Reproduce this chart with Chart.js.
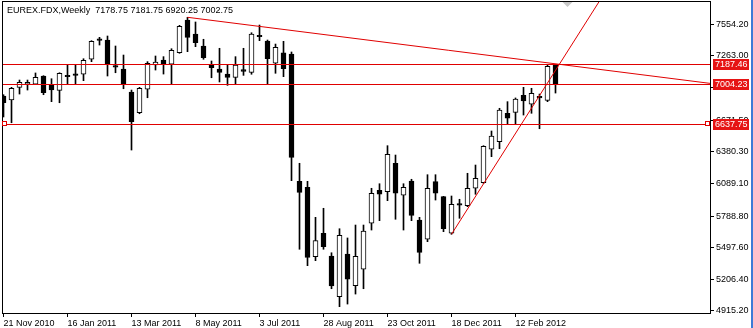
<!DOCTYPE html>
<html>
<head>
<meta charset="utf-8">
<title>EUREX.FDX Weekly</title>
<script src="https://cdn.jsdelivr.net/npm/chart.js@4"></script>
<style>
  html, body { margin: 0; padding: 0; background: #fff; }
  #c { display: block; }
</style>
</head>
<body>
<canvas id="c" width="753" height="328" style="width:753px;height:328px"></canvas>
<script>
// weekly candles, index 0 = week of 21 Nov 2010
const opens  = [6893, 6856, 6973, 7002, 7001, 7077, 6994, 6945, 7083, 7097,
                7095, 7231, 7420, 7408, 7172, 7141, 6930, 6739, 6955, 7178,
                7224, 7187, 7291, 7592, 7463, 7353, 7185, 7141, 7095, 7065,
                7135, 7111, 7452, 7399, 7194, 7291, 7279, 6108, 6053, 5415,
                5630, 5421, 5047, 5439, 5148, 5299, 5722, 6025, 6013, 6274,
                5980, 6111, 5752, 5577, 6105, 5967, 5630, 5903, 5884, 6044,
                6095, 6403, 6473, 6734, 6743, 6899, 6817, 6890, 6853, 7178.75];
const highs  = [6905, 6973, 7040, 7040, 7105, 7080, 7052, 7107, 7178, 7178,
                7236, 7402, 7433, 7445, 7353, 7270, 6948, 6973, 7209, 7261,
                7255, 7328, 7543, 7617, 7574, 7415, 7215, 7332, 7178, 7255,
                7332, 7475, 7546, 7408, 7371, 7396, 7298, 6274, 6108, 5777,
                5860, 5451, 5672, 5587, 5706, 5706, 6044, 6086, 6436, 6350,
                6086, 6127, 5777, 6169, 6169, 5970, 5973, 5943, 6182, 6258,
                6436, 6571, 6780, 6841, 6875, 6973, 6964, 6911, 7175, 7181.75];
const lows   = [6700, 6647, 6911, 6948, 6998, 6905, 6841, 6831, 7003, 7003,
                7034, 7209, 7362, 7077, 7107, 6960, 6396, 6730, 6877, 7132,
                7095, 7003, 7286, 7301, 7347, 7231, 7061, 7022, 6991, 7003,
                7083, 7093, 7402, 7001, 7102, 7071, 6114, 5483, 5332, 5378,
                5483, 5120, 4955, 4979, 5071, 5120, 5660, 5746, 5930, 5759,
                5660, 5746, 5354, 5553, 5936, 5645, 5621, 5768, 5875, 5989,
                6090, 6335, 6408, 6635, 6635, 6718, 6734, 6592, 6841, 6920.25];
const closes = [6831, 6964, 7019, 7018, 7065, 6923, 6948, 7102, 7071, 7083,
                7221, 7396, 7405, 7190, 7158, 7003, 6657, 6964, 7194, 7206,
                7187, 7313, 7534, 7433, 7383, 7245, 7153, 7111, 7065, 7178,
                7120, 7463, 7438, 7236, 7341, 7144, 6329, 6007, 5409, 5562,
                5507, 5145, 5612, 5207, 5418, 5651, 5998, 5989, 6357, 5998,
                6053, 5795, 5455, 6044, 5998, 5672, 5897, 5889, 6044, 6136,
                6430, 6525, 6764, 6688, 6865, 6847, 6918, 6875, 7166, 7002.75];

const xTickIndex  = [0, 8, 16, 24, 32, 40, 48, 56, 64];
const xTickLabels = ['21 Nov 2010', '16 Jan 2011', '13 Mar 2011', '8 May 2011', '3 Jul 2011',
                     '28 Aug 2011', '23 Oct 2011', '18 Dec 2011', '12 Feb 2012'];
const yTickValues = [7554.20, 7263.00, 6971.80, 6671.50, 6380.30, 6089.10, 5788.80, 5497.60, 5206.40, 4915.20];

// horizontal levels and trend lines drawn on the chart
const levelValues = [7187.46, 7004.23, 6637.75];
const selectedLevel = 6637.75;
const trendDownX = [23, 69];
const trendDownY = [7617, 7189];
const trendUpX = [56, 68];
const trendUpY = [5621, 7013];

const titleText = 'EUREX.FDX,Weekly  7178.75 7181.75 6920.25 7002.75';

// scale window (8 px per week, 9.2 points per px)
const X_MIN = -0.1875, X_MAX = 88.3125;
const Y_MIN = 4887.46, Y_MAX = 7767.06;
const SHIFT_MARK = 70.5;

const FONT = '"Liberation Sans", Arial, sans-serif';
const LINE_RED = '#e00000';
const BOX_RED = '#e61414';

const ray = (xs, ys, xEnd) => {
    const slope = (ys[1] - ys[0]) / (xs[1] - xs[0]);
    return [{ x: xs[0], y: ys[0] }, { x: xEnd, y: ys[0] + slope * (xEnd - xs[0]) }];
};

const bodies = opens.map((o, i) => ({ x: i, y: [o, closes[i]] }));
const wicks = lows.map((l, i) => ({ x: i, y: [l, highs[i]] }));
const bodyColors = opens.map((o, i) => closes[i] >= o ? '#ffffff' : '#000000');

const noPad = s => { s.paddingTop = 0; s.paddingBottom = 0; s.paddingLeft = 0; s.paddingRight = 0; };

const mtDecor = {
    id: 'mtDecor',
    afterDatasetsDraw(chart) {
        const { ctx, chartArea: a, scales: { y } } = chart;
        ctx.save();
        ctx.fillStyle = LINE_RED;
        levelValues.forEach(v => {
            const py = Math.round(y.getPixelForValue(v));
            ctx.fillRect(a.left, py, a.right - a.left, 1);
        });
        ctx.restore();
    },
    afterDraw(chart) {
        const { ctx, chartArea: a, scales: { x, y } } = chart;
        ctx.save();

        // frame
        ctx.strokeStyle = '#000';
        ctx.lineWidth = 1;
        ctx.strokeRect(a.left + 0.5, a.top + 0.5, a.right - a.left, a.bottom - a.top - 1);

        // selected-line handles
        const sy = Math.round(y.getPixelForValue(selectedLevel));
        ctx.fillStyle = '#fff';
        ctx.strokeStyle = LINE_RED;
        [a.left + 0.5, a.right - 4.5].forEach(sx => {
            ctx.fillRect(sx, sy - 2, 4, 4);
            ctx.strokeRect(sx, sy - 2.5, 4, 4);
        });

        // chart shift marker
        const mx = x.getPixelForValue(SHIFT_MARK);
        ctx.fillStyle = '#c8c8c8';
        ctx.beginPath();
        ctx.moveTo(mx - 5, a.top + 1);
        ctx.lineTo(mx + 5, a.top + 1);
        ctx.lineTo(mx, a.top + 6);
        ctx.closePath();
        ctx.fill();

        // price labels for levels
        ctx.font = '9px ' + FONT;
        ctx.textBaseline = 'middle';
        ctx.textAlign = 'left';
        levelValues.forEach(v => {
            const py = Math.round(y.getPixelForValue(v));
            ctx.fillStyle = BOX_RED;
            ctx.fillRect(a.right + 3, py - 5, 36, 11);
            ctx.fillStyle = '#fff';
            ctx.fillText(v.toFixed(2), a.right + 5, py + 1);
        });

        // title
        ctx.fillStyle = '#000';
        ctx.fillText(titleText, 7, 10.5);

        // window edge
        ctx.fillStyle = '#3d7bd6';
        ctx.fillRect(751, 0, 2, chart.height);
        ctx.restore();
    }
};

new Chart(document.getElementById('c'), {
    type: 'bar',
    data: {
        datasets: [
            { type: 'line', data: ray(trendDownX, trendDownY, X_MAX), borderColor: LINE_RED, borderWidth: 1,
              pointRadius: 0, tension: 0, order: 0 },
            { type: 'line', data: ray(trendUpX, trendUpY, 80), borderColor: LINE_RED, borderWidth: 1,
              pointRadius: 0, tension: 0, order: 0 },
            { data: bodies, backgroundColor: bodyColors, borderColor: '#000', borderWidth: 1,
              borderSkipped: false, barThickness: 5, grouped: false, order: 1 },
            { data: wicks, backgroundColor: '#000', borderWidth: 0,
              barThickness: 1, grouped: false, order: 2 }
        ]
    },
    options: {
        responsive: false,
        animation: false,
        devicePixelRatio: 1,
        layout: { padding: { left: 2, top: 1, right: 0, bottom: 0 } },
        plugins: { legend: { display: false }, tooltip: { enabled: false } },
        scales: {
            x: {
                type: 'linear',
                position: 'bottom',
                min: X_MIN,
                max: X_MAX,
                offset: false,
                border: { display: false },
                grid: { offset: false, drawOnChartArea: false, drawTicks: true, tickLength: 3, color: '#000' },
                afterBuildTicks: s => { s.ticks = xTickIndex.map(v => ({ value: v })); },
                afterFit: s => { s.height = 14; noPad(s); },
                ticks: {
                    autoSkip: false,
                    maxRotation: 0,
                    align: 'start',
                    padding: 1,
                    color: '#000',
                    font: { family: FONT, size: 9 },
                    callback: v => xTickLabels[xTickIndex.indexOf(v)]
                }
            },
            y: {
                type: 'linear',
                position: 'right',
                min: Y_MIN,
                max: Y_MAX,
                border: { display: false },
                grid: { drawOnChartArea: false, drawTicks: true, tickLength: 4, color: '#000' },
                afterBuildTicks: s => { s.ticks = yTickValues.map(v => ({ value: v })); },
                afterFit: s => { s.width = 43; noPad(s); },
                ticks: {
                    autoSkip: false,
                    padding: 2,
                    color: '#000',
                    font: { family: FONT, size: 9 },
                    callback: v => v.toFixed(2)
                }
            }
        }
    },
    plugins: [mtDecor]
});
</script>
</body>
</html>
